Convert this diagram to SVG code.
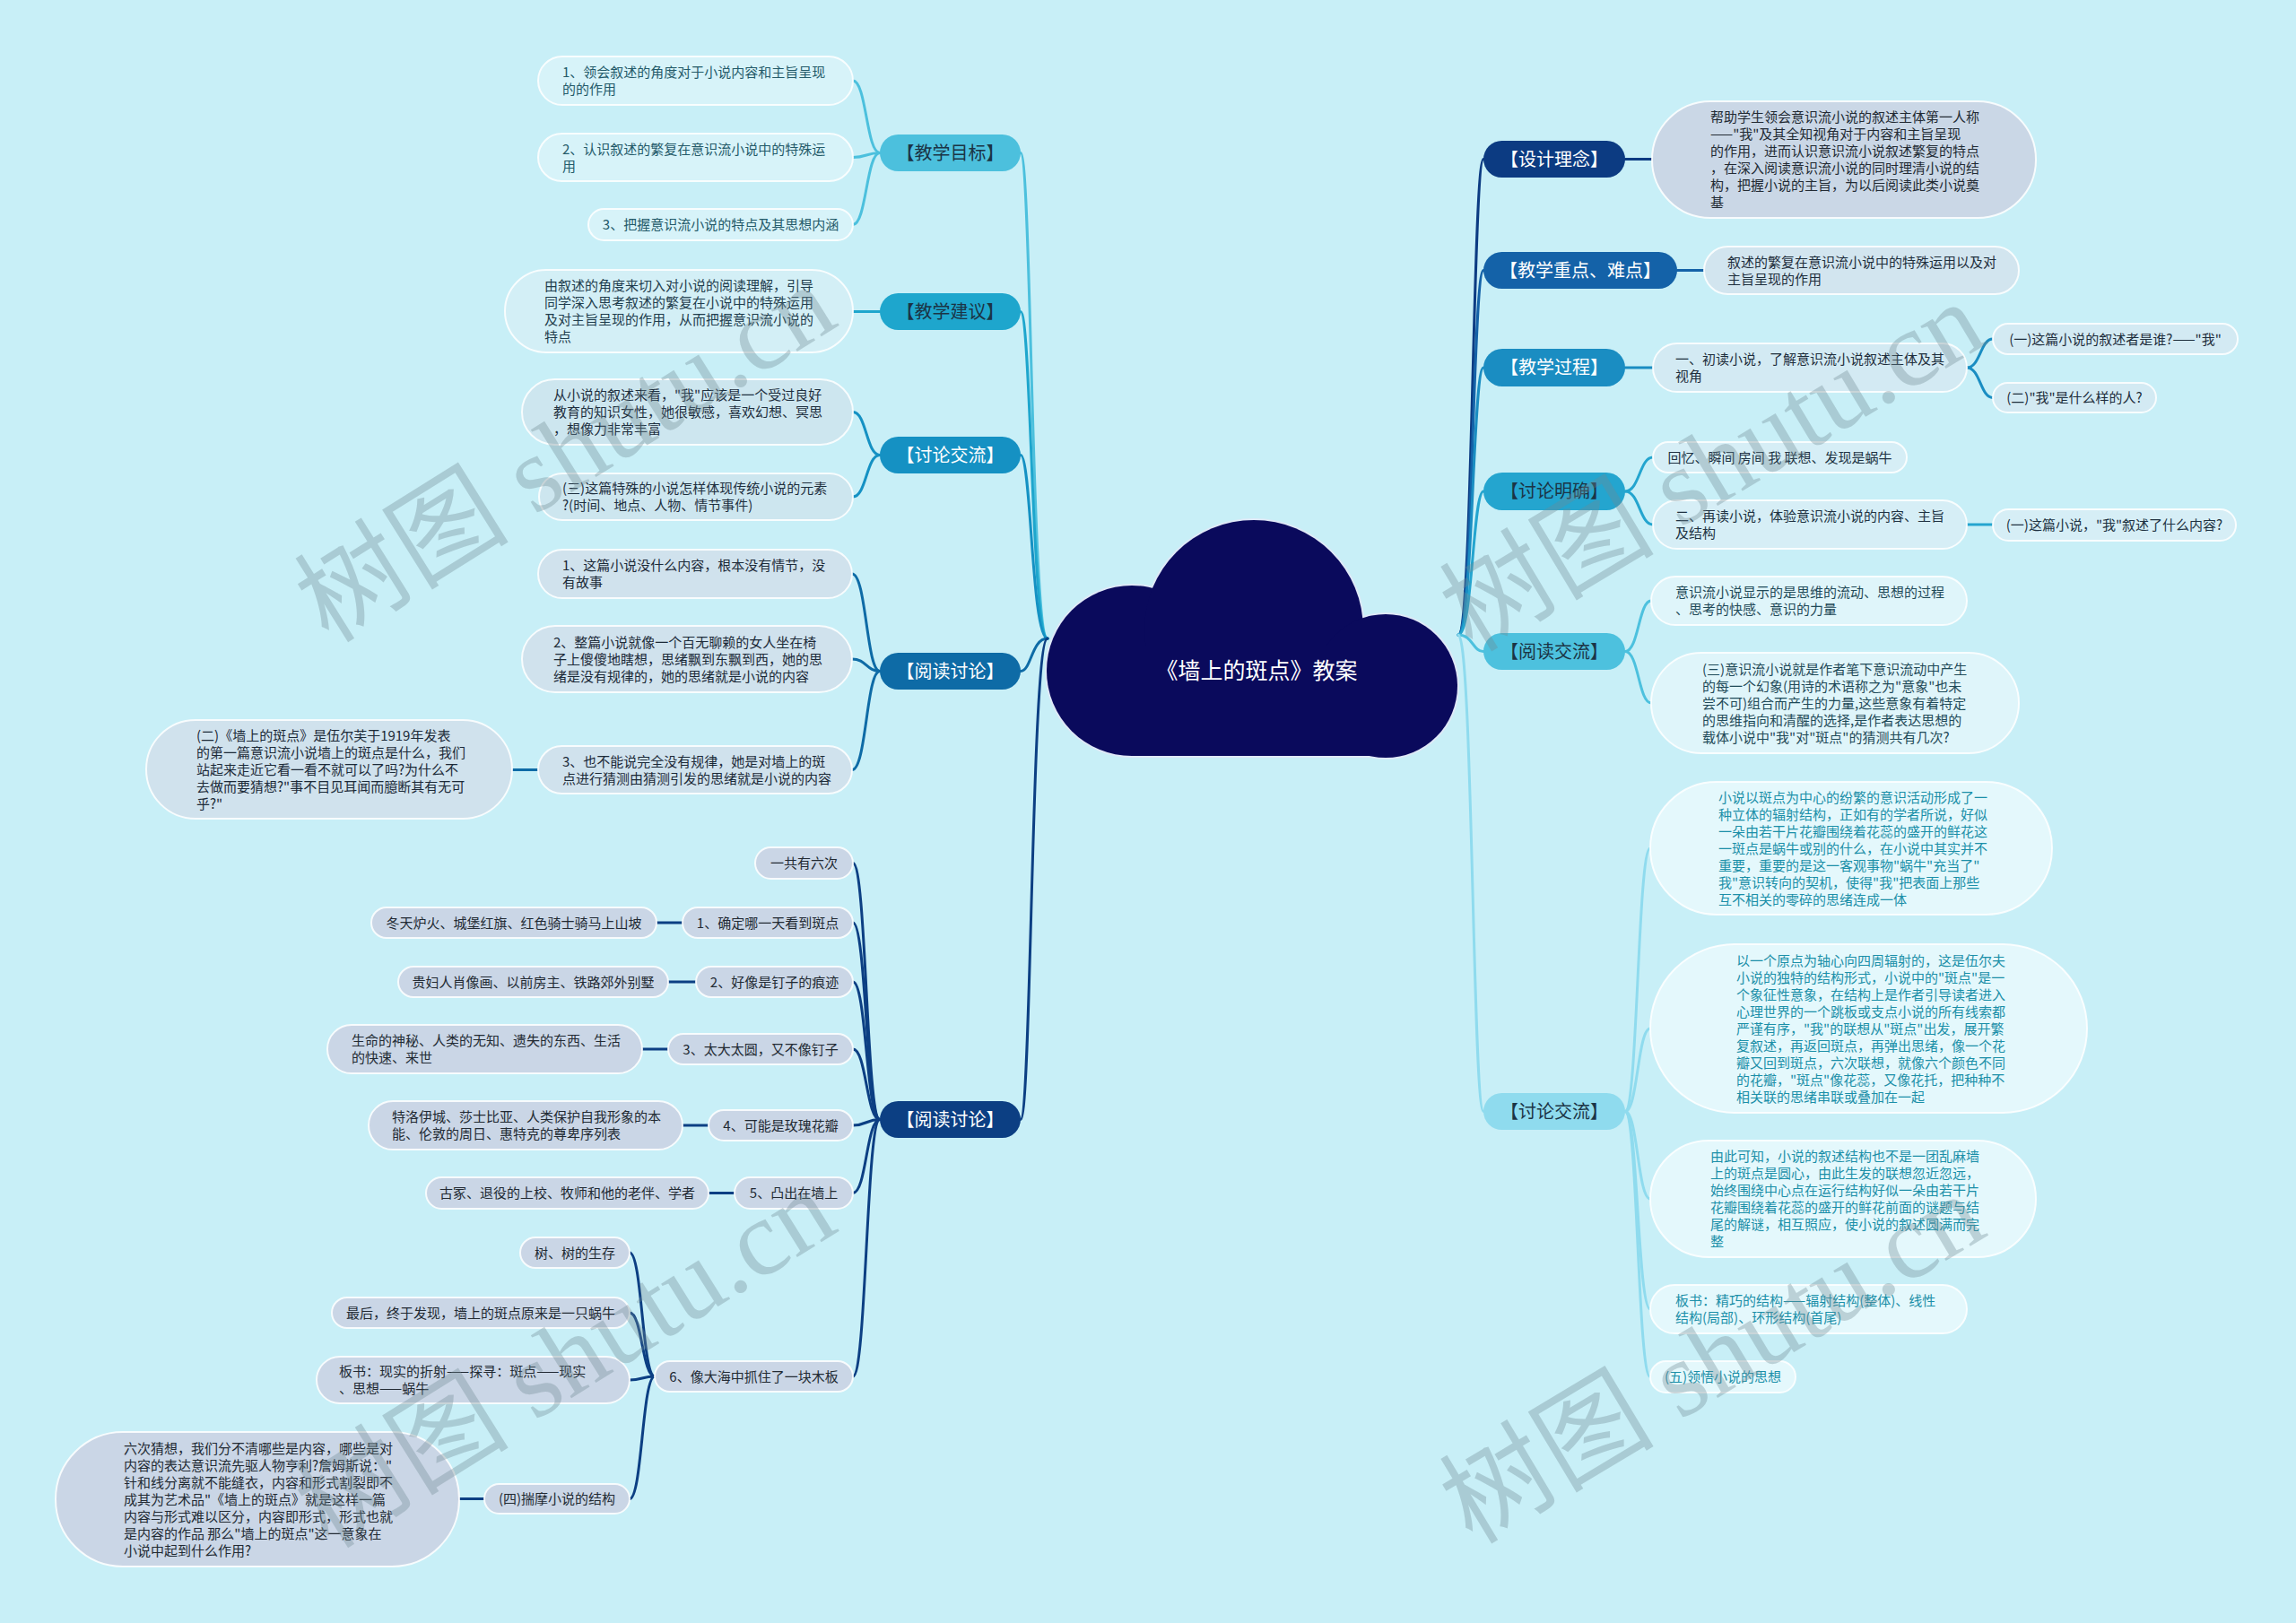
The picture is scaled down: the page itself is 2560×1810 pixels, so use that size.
<svg xmlns="http://www.w3.org/2000/svg" width="2560" height="1810" viewBox="0 0 2560 1810">
<style>
text{font-family:"Noto Sans CJK SC","Liberation Sans",sans-serif;font-size:15px}
.mt{font-size:20px;text-anchor:middle}
.w{fill:#ffffff}
.dk{fill:#1b3445}
.mid{text-anchor:middle}
.ch{stroke:#ffffff;stroke-width:2;stroke-opacity:0.85}
.cn path{fill:none;stroke-width:3;stroke-linecap:round}
.a1{fill:#d7f3f9}.a1t{fill:#245a69}
.a2{fill:#d3eff6}.a2t{fill:#1f3d4d}
.a3{fill:#cde6ef}.a3t{fill:#1e2f3e}
.a4{fill:#d0e2ed}.a4t{fill:#1c2a38}
.a5{fill:#cad6e6}.a5t{fill:#222a33}
.b1{fill:#cad7e6}.b1t{fill:#222a33}
.b2{fill:#d2e5ef}.b2t{fill:#1e2e3c}
.b3{fill:#d3eaf3}.b3t{fill:#1e2e3c}
.b4{fill:#d6eef6}.b4t{fill:#203242}
.b5{fill:#dff5fa}.b5t{fill:#1f4a58}
.b6{fill:#e4f8fc}.b6t{fill:#1b8fa8}
.wm{font-family:"Liberation Serif","Noto Sans CJK SC",serif;font-size:120px;fill:#6f8a93;fill-opacity:0.35;text-anchor:middle}
</style>
<rect x="0" y="0" width="2560" height="1810" fill="#c8eff7"/>

<g id="connectors" class="cn">
  <!-- center to left main -->
  <path d="M1168 712 C1150 712,1150 170.5,1138 170.5" stroke="#4cc0dd"/>
  <path d="M1168 712 C1150 712,1150 347.5,1138 347.5" stroke="#1ea6cd"/>
  <path d="M1168 712 C1150 712,1150 507.5,1138 507.5" stroke="#1591c3"/>
  <path d="M1168 712 C1150 712,1150 748.5,1138 748.5" stroke="#0e6ba6"/>
  <path d="M1168 712 C1150 712,1150 1248.5,1138 1248.5" stroke="#0c3f83"/>
  <!-- center to right main -->
  <path d="M1626 708 C1642 708,1642 177.5,1654 177.5" stroke="#0c3b82"/>
  <path d="M1626 708 C1642 708,1642 301.5,1654 301.5" stroke="#1462a8"/>
  <path d="M1626 708 C1642 708,1642 410,1654 410" stroke="#1a8dc2"/>
  <path d="M1626 708 C1642 708,1642 548,1654 548" stroke="#24a5cf"/>
  <path d="M1626 708 C1642 708,1642 726.5,1654 726.5" stroke="#4dc1de"/>
  <path d="M1626 708 C1642 708,1642 1239.5,1654 1239.5" stroke="#8fdbee"/>
  <!-- L1 -->
  <path d="M981 170.5 C966 170.5,966 90,951 90" stroke="#4cc0dd"/>
  <path d="M981 170.5 C966 170.5,966 175.5,951 175.5" stroke="#4cc0dd"/>
  <path d="M981 170.5 C966 170.5,966 250.5,951 250.5" stroke="#4cc0dd"/>
  <!-- L2 -->
  <path d="M981 347.5 L951 347.5" stroke="#1ea6cd"/>
  <!-- L3 -->
  <path d="M981 507.5 C966 507.5,966 459.5,951 459.5" stroke="#1591c3"/>
  <path d="M981 507.5 C966 507.5,966 554,951 554" stroke="#1591c3"/>
  <!-- L4 -->
  <path d="M981 748.5 C966 748.5,966 640,950 640" stroke="#0e6ba6"/>
  <path d="M981 748.5 C966 748.5,966 735,950 735" stroke="#0e6ba6"/>
  <path d="M981 748.5 C966 748.5,966 858.5,950 858.5" stroke="#0e6ba6"/>
  <path d="M600 858.5 L571 858.5" stroke="#0e6ba6"/>
  <!-- L5 -->
  <path d="M981 1248.5 C966 1248.5,966 962.5,951 962.5" stroke="#0c3f83"/>
  <path d="M981 1248.5 C966 1248.5,966 1029,951 1029" stroke="#0c3f83"/>
  <path d="M981 1248.5 C966 1248.5,966 1095,951 1095" stroke="#0c3f83"/>
  <path d="M981 1248.5 C966 1248.5,966 1170,951 1170" stroke="#0c3f83"/>
  <path d="M981 1248.5 C966 1248.5,966 1255,951 1255" stroke="#0c3f83"/>
  <path d="M981 1248.5 C966 1248.5,966 1330.5,951 1330.5" stroke="#0c3f83"/>
  <path d="M981 1248.5 C966 1248.5,966 1535,951 1535" stroke="#0c3f83"/>
  <path d="M761 1029 L732 1029" stroke="#0c3f83"/>
  <path d="M776 1095 L745 1095" stroke="#0c3f83"/>
  <path d="M745 1170 L716 1170" stroke="#0c3f83"/>
  <path d="M790 1255 L761 1255" stroke="#0c3f83"/>
  <path d="M819 1330.5 L790 1330.5" stroke="#0c3f83"/>
  <path d="M730 1535 C716 1535,716 1397,702 1397" stroke="#0c3f83"/>
  <path d="M730 1535 C716 1535,716 1464,702 1464" stroke="#0c3f83"/>
  <path d="M730 1535 C716 1535,716 1539,702 1539" stroke="#0c3f83"/>
  <path d="M730 1535 C716 1535,716 1671.5,702 1671.5" stroke="#0c3f83"/>
  <path d="M540 1671.5 L512 1671.5" stroke="#0c3f83"/>
  <!-- R1..R6 -->
  <path d="M1812 177.5 L1842 177.5" stroke="#0c3b82"/>
  <path d="M1870 301.5 L1900 301.5" stroke="#1462a8"/>
  <path d="M1812 410 L1843 410" stroke="#1a8dc2"/>
  <path d="M2193 410 C2208 410,2208 378,2222 378" stroke="#1a8dc2"/>
  <path d="M2193 410 C2208 410,2208 443.5,2222 443.5" stroke="#1a8dc2"/>
  <path d="M1812 548 C1828 548,1828 510,1843 510" stroke="#24a5cf"/>
  <path d="M1812 548 C1828 548,1828 585,1843 585" stroke="#24a5cf"/>
  <path d="M2193 585 L2222 585" stroke="#24a5cf"/>
  <path d="M1812 726.5 C1827 726.5,1827 670,1841 670" stroke="#4dc1de"/>
  <path d="M1812 726.5 C1827 726.5,1827 784,1841 784" stroke="#4dc1de"/>
  <path d="M1812 1239.5 C1826 1239.5,1826 946,1840 946" stroke="#8fdbee"/>
  <path d="M1812 1239.5 C1826 1239.5,1826 1147,1840 1147" stroke="#8fdbee"/>
  <path d="M1812 1239.5 C1826 1239.5,1826 1337,1840 1337" stroke="#8fdbee"/>
  <path d="M1812 1239.5 C1826 1239.5,1826 1460,1840 1460" stroke="#8fdbee"/>
  <path d="M1812 1239.5 C1826 1239.5,1826 1535.5,1840 1535.5" stroke="#8fdbee"/>
</g>

<g id="root">
  <g fill="#0a0a5c" stroke="#dfe9f7" stroke-width="4">
    <circle cx="1262" cy="748" r="95"/>
    <circle cx="1398" cy="702" r="122"/>
    <circle cx="1545" cy="765" r="80"/>
    <rect x="1262" y="720" width="283" height="123"/>
  </g>
  <g fill="#0a0a5c">
    <circle cx="1262" cy="748" r="95"/>
    <circle cx="1398" cy="702" r="122"/>
    <circle cx="1545" cy="765" r="80"/>
    <rect x="1262" y="720" width="283" height="123"/>
  </g>
  <text x="1401" y="757" class="w mid" style="font-size:25px">《墙上的斑点》教案</text>
</g>

<!-- LEFT MAIN NODES -->
<g id="L1"><rect x="981" y="150" width="157" height="41" rx="20.5" fill="#4cc0dd"/><text x="1059.5" y="177.5" class="mt dk">【教学目标】</text></g>
<g id="L2"><rect x="981" y="327" width="157" height="41" rx="20.5" fill="#1ea6cd"/><text x="1059.5" y="354.5" class="mt dk">【教学建议】</text></g>
<g id="L3"><rect x="981" y="487" width="157" height="41" rx="20.5" fill="#1591c3"/><text x="1059.5" y="514.5" class="mt w">【讨论交流】</text></g>
<g id="L4"><rect x="981" y="728" width="157" height="41" rx="20.5" fill="#0e6ba6"/><text x="1059.5" y="755.5" class="mt w">【阅读讨论】</text></g>
<g id="L5"><rect x="981" y="1228" width="157" height="41" rx="20.5" fill="#0c3f83"/><text x="1059.5" y="1255.5" class="mt w">【阅读讨论】</text></g>

<!-- L1 children -->
<g id="L1a"><rect x="600" y="63" width="351" height="54" rx="27" class="a1 ch"/><text class="a1t"><tspan x="627" y="86">1、领会叙述的角度对于小说内容和主旨呈现</tspan><tspan x="627" y="105">的的作用</tspan></text></g>
<g id="L1b"><rect x="600" y="149" width="351" height="53" rx="26.5" class="a1 ch"/><text class="a1t"><tspan x="627" y="171.5">2、认识叙述的繁复在意识流小说中的特殊运</tspan><tspan x="627" y="190.5">用</tspan></text></g>
<g id="L1c"><rect x="656" y="233" width="295" height="35" rx="17.5" class="a1 ch"/><text x="803.5" y="256" class="a1t mid">3、把握意识流小说的特点及其思想内涵</text></g>

<!-- L2 child -->
<g id="L2a"><rect x="563" y="301" width="388" height="92" rx="46" class="a2 ch"/><text class="a2t"><tspan x="607" y="324">由叙述的角度来切入对小说的阅读理解，引导</tspan><tspan x="607" y="343">同学深入思考叙述的繁复在小说中的特殊运用</tspan><tspan x="607" y="362">及对主旨呈现的作用，从而把握意识流小说的</tspan><tspan x="607" y="381">特点</tspan></text></g>

<!-- L3 children -->
<g id="L3a"><rect x="582" y="423" width="369" height="73" rx="36.5" class="a3 ch"/><text class="a3t"><tspan x="617" y="446">从小说的叙述来看，"我"应该是一个受过良好</tspan><tspan x="617" y="465">教育的知识女性，她很敏感，喜欢幻想、冥思</tspan><tspan x="617" y="484">，想像力非常丰富</tspan></text></g>
<g id="L3b"><rect x="601" y="528" width="350" height="52" rx="26" class="a3 ch"/><text class="a3t"><tspan x="627" y="550">(三)这篇特殊的小说怎样体现传统小说的元素</tspan><tspan x="627" y="569">?(时间、地点、人物、情节事件)</tspan></text></g>

<!-- L4 children -->
<g id="L4a"><rect x="600" y="613" width="350" height="54" rx="27" class="a4 ch"/><text class="a4t"><tspan x="627" y="636">1、这篇小说没什么内容，根本没有情节，没</tspan><tspan x="627" y="655">有故事</tspan></text></g>
<g id="L4b"><rect x="582" y="698" width="368" height="74" rx="37" class="a4 ch"/><text class="a4t"><tspan x="617" y="721.5">2、整篇小说就像一个百无聊赖的女人坐在椅</tspan><tspan x="617" y="740.5">子上傻傻地瞎想，思绪飘到东飘到西，她的思</tspan><tspan x="617" y="759.5">绪是没有规律的，她的思绪就是小说的内容</tspan></text></g>
<g id="L4c"><rect x="600" y="832" width="350" height="53" rx="26.5" class="a4 ch"/><text class="a4t"><tspan x="627" y="854.5">3、也不能说完全没有规律，她是对墙上的斑</tspan><tspan x="627" y="873.5">点进行猜测由猜测引发的思绪就是小说的内容</tspan></text></g>
<g id="L4c1"><rect x="163" y="803" width="408" height="110" rx="55" class="a4 ch"/><text class="a4t"><tspan x="219" y="825.5">(二)《墙上的斑点》是伍尔芙于1919年发表</tspan><tspan x="219" y="844.5">的第一篇意识流小说墙上的斑点是什么，我们</tspan><tspan x="219" y="863.5">站起来走近它看一看不就可以了吗?为什么不</tspan><tspan x="219" y="882.5">去做而要猜想?"事不目见耳闻而臆断其有无可</tspan><tspan x="219" y="901.5">乎?"</tspan></text></g>

<!-- L5 children -->
<g id="L5a"><rect x="842" y="945" width="109" height="35" rx="17.5" class="a5 ch"/><text x="896.5" y="968" class="a5t mid">一共有六次</text></g>
<g id="L5b"><rect x="761" y="1012" width="190" height="34" rx="17" class="a5 ch"/><text x="856" y="1034.5" class="a5t mid">1、确定哪一天看到斑点</text></g>
<g id="L5b1"><rect x="414" y="1012" width="318" height="34" rx="17" class="a5 ch"/><text x="573" y="1034.5" class="a5t mid">冬天炉火、城堡红旗、红色骑士骑马上山坡</text></g>
<g id="L5c"><rect x="776" y="1078" width="175" height="34" rx="17" class="a5 ch"/><text x="863.5" y="1100.5" class="a5t mid">2、好像是钉子的痕迹</text></g>
<g id="L5c1"><rect x="444" y="1078" width="301" height="34" rx="17" class="a5 ch"/><text x="594.5" y="1100.5" class="a5t mid">贵妇人肖像画、以前房主、铁路郊外别墅</text></g>
<g id="L5d"><rect x="745" y="1153" width="206" height="34" rx="17" class="a5 ch"/><text x="848" y="1175.5" class="a5t mid">3、太大太圆，又不像钉子</text></g>
<g id="L5d1"><rect x="365" y="1143" width="351" height="54" rx="27" class="a5 ch"/><text class="a5t"><tspan x="392" y="1166">生命的神秘、人类的无知、遗失的东西、生活</tspan><tspan x="392" y="1185">的快速、来世</tspan></text></g>
<g id="L5e"><rect x="790" y="1238" width="161" height="34" rx="17" class="a5 ch"/><text x="870.5" y="1260.5" class="a5t mid">4、可能是玫瑰花瓣</text></g>
<g id="L5e1"><rect x="411" y="1228" width="350" height="54" rx="27" class="a5 ch"/><text class="a5t"><tspan x="437" y="1251">特洛伊城、莎士比亚、人类保护自我形象的本</tspan><tspan x="437" y="1270">能、伦敦的周日、惠特克的尊卑序列表</tspan></text></g>
<g id="L5f"><rect x="819" y="1313" width="132" height="35" rx="17.5" class="a5 ch"/><text x="885" y="1336" class="a5t mid">5、凸出在墙上</text></g>
<g id="L5f1"><rect x="475" y="1313" width="315" height="35" rx="17.5" class="a5 ch"/><text x="632.5" y="1336" class="a5t mid">古冢、退役的上校、牧师和他的老伴、学者</text></g>
<g id="L5g"><rect x="730" y="1518" width="221" height="34" rx="17" class="a5 ch"/><text x="840.5" y="1540.5" class="a5t mid">6、像大海中抓住了一块木板</text></g>
<g id="L5g1"><rect x="580" y="1380" width="122" height="34" rx="17" class="a5 ch"/><text x="641" y="1402.5" class="a5t mid">树、树的生存</text></g>
<g id="L5g2"><rect x="370" y="1447" width="332" height="34" rx="17" class="a5 ch"/><text x="536" y="1469.5" class="a5t mid">最后，终于发现，墙上的斑点原来是一只蜗牛</text></g>
<g id="L5g3"><rect x="353" y="1513" width="349" height="52" rx="26" class="a5 ch"/><text class="a5t"><tspan x="378" y="1535">板书：现实的折射——探寻：斑点——现实</tspan><tspan x="378" y="1554">、思想——蜗牛</tspan></text></g>
<g id="L5g4"><rect x="540" y="1655" width="162" height="33" rx="16.5" class="a5 ch"/><text x="621" y="1677" class="a5t mid">(四)揣摩小说的结构</text></g>
<g id="L5g4a"><rect x="62" y="1597" width="450" height="150" rx="75" class="a5 ch"/><text class="a5t"><tspan x="138" y="1620.5">六次猜想，我们分不清哪些是内容，哪些是对</tspan><tspan x="138" y="1639.5">内容的表达意识流先驱人物亨利?詹姆斯说："</tspan><tspan x="138" y="1658.5">针和线分离就不能缝衣，内容和形式割裂即不</tspan><tspan x="138" y="1677.5">成其为艺术品"《墙上的斑点》就是这样一篇</tspan><tspan x="138" y="1696.5">内容与形式难以区分，内容即形式，形式也就</tspan><tspan x="138" y="1715.5">是内容的作品 那么"墙上的斑点"这一意象在</tspan><tspan x="138" y="1734.5">小说中起到什么作用?</tspan></text></g>

<!-- RIGHT MAIN NODES -->
<g id="R1"><rect x="1654" y="157" width="158" height="41" rx="20.5" fill="#0c3b82"/><text x="1733" y="184.5" class="mt w">【设计理念】</text></g>
<g id="R2"><rect x="1654" y="281" width="216" height="41" rx="20.5" fill="#1462a8"/><text x="1762" y="308.5" class="mt w">【教学重点、难点】</text></g>
<g id="R3"><rect x="1654" y="389" width="158" height="42" rx="21" fill="#1a8dc2"/><text x="1733" y="417" class="mt w">【教学过程】</text></g>
<g id="R4"><rect x="1654" y="527" width="158" height="42" rx="21" fill="#24a5cf"/><text x="1733" y="555" class="mt dk">【讨论明确】</text></g>
<g id="R5"><rect x="1654" y="706" width="158" height="41" rx="20.5" fill="#4dc1de"/><text x="1733" y="733.5" class="mt dk">【阅读交流】</text></g>
<g id="R6"><rect x="1654" y="1219" width="158" height="41" rx="20.5" fill="#8fdbee"/><text x="1733" y="1246.5" class="mt dk">【讨论交流】</text></g>

<!-- R children -->
<g id="R1a"><rect x="1842" y="113" width="428" height="130" rx="65" class="b1 ch"/><text class="b1t"><tspan x="1907" y="136">帮助学生领会意识流小说的叙述主体第一人称</tspan><tspan x="1907" y="155">——"我"及其全知视角对于内容和主旨呈现</tspan><tspan x="1907" y="174">的作用，进而认识意识流小说叙述繁复的特点</tspan><tspan x="1907" y="193">，在深入阅读意识流小说的同时理清小说的结</tspan><tspan x="1907" y="212">构，把握小说的主旨，为以后阅读此类小说奠</tspan><tspan x="1907" y="231">基</tspan></text></g>
<g id="R2a"><rect x="1900" y="275" width="351" height="53" rx="26.5" class="b2 ch"/><text class="b2t"><tspan x="1926" y="297.5">叙述的繁复在意识流小说中的特殊运用以及对</tspan><tspan x="1926" y="316.5">主旨呈现的作用</tspan></text></g>
<g id="R3a"><rect x="1843" y="383" width="350" height="54" rx="27" class="b3 ch"/><text class="b3t"><tspan x="1868" y="406">一、初读小说，了解意识流小说叙述主体及其</tspan><tspan x="1868" y="425">视角</tspan></text></g>
<g id="R3a1"><rect x="2222" y="361" width="273" height="34" rx="17" class="b3 ch"/><text x="2358.5" y="383.5" class="b3t mid">(一)这篇小说的叙述者是谁?——"我"</text></g>
<g id="R3a2"><rect x="2222" y="427" width="182" height="33" rx="16.5" class="b3 ch"/><text x="2313" y="449" class="b3t mid">(二)"我"是什么样的人?</text></g>
<g id="R4a"><rect x="1843" y="493" width="283" height="34" rx="17" class="b4 ch"/><text x="1984.5" y="515.5" class="b4t mid">回忆、瞬间 房间 我 联想、发现是蜗牛</text></g>
<g id="R4b"><rect x="1843" y="558" width="350" height="54" rx="27" class="b4 ch"/><text class="b4t"><tspan x="1868" y="581">二、再读小说，体验意识流小说的内容、主旨</tspan><tspan x="1868" y="600">及结构</tspan></text></g>
<g id="R4b1"><rect x="2222" y="568" width="271" height="35" rx="17.5" class="b4 ch"/><text x="2357.5" y="591" class="b4t mid">(一)这篇小说，"我"叙述了什么内容?</text></g>
<g id="R5a"><rect x="1841" y="643" width="352" height="54" rx="27" class="b5 ch"/><text class="b5t"><tspan x="1868" y="666">意识流小说显示的是思维的流动、思想的过程</tspan><tspan x="1868" y="685">、思考的快感、意识的力量</tspan></text></g>
<g id="R5b"><rect x="1841" y="728" width="410" height="112" rx="56" class="b5 ch"/><text class="b5t"><tspan x="1898" y="751.5">(三)意识流小说就是作者笔下意识流动中产生</tspan><tspan x="1898" y="770.5">的每一个幻象(用诗的术语称之为"意象"也未</tspan><tspan x="1898" y="789.5">尝不可)组合而产生的力量,这些意象有着特定</tspan><tspan x="1898" y="808.5">的思维指向和清醒的选择,是作者表达思想的</tspan><tspan x="1898" y="827.5">载体小说中"我"对"斑点"的猜测共有几次?</tspan></text></g>
<g id="R6a"><rect x="1840" y="872" width="448" height="148" rx="74" class="b6 ch"/><text class="b6t"><tspan x="1916" y="894.5">小说以斑点为中心的纷繁的意识活动形成了一</tspan><tspan x="1916" y="913.5">种立体的辐射结构，正如有的学者所说，好似</tspan><tspan x="1916" y="932.5">一朵由若干片花瓣围绕着花蕊的盛开的鲜花这</tspan><tspan x="1916" y="951.5">一斑点是蜗牛或别的什么，在小说中其实并不</tspan><tspan x="1916" y="970.5">重要，重要的是这一客观事物"蜗牛"充当了"</tspan><tspan x="1916" y="989.5">我"意识转向的契机，使得"我"把表面上那些</tspan><tspan x="1916" y="1008.5">互不相关的零碎的思绪连成一体</tspan></text></g>
<g id="R6b"><rect x="1840" y="1053" width="487" height="188" rx="94" class="b6 ch"/><text class="b6t"><tspan x="1936" y="1076.5">以一个原点为轴心向四周辐射的，这是伍尔夫</tspan><tspan x="1936" y="1095.5">小说的独特的结构形式，小说中的"斑点"是一</tspan><tspan x="1936" y="1114.5">个象征性意象，在结构上是作者引导读者进入</tspan><tspan x="1936" y="1133.5">心理世界的一个跳板或支点小说的所有线索都</tspan><tspan x="1936" y="1152.5">严谨有序，"我"的联想从"斑点"出发，展开繁</tspan><tspan x="1936" y="1171.5">复叙述，再返回斑点，再弹出思绪，像一个花</tspan><tspan x="1936" y="1190.5">瓣又回到斑点，六次联想，就像六个颜色不同</tspan><tspan x="1936" y="1209.5">的花瓣，"斑点"像花蕊，又像花托，把种种不</tspan><tspan x="1936" y="1228.5">相关联的思绪串联或叠加在一起</tspan></text></g>
<g id="R6c"><rect x="1840" y="1272" width="430" height="130" rx="65" class="b6 ch"/><text class="b6t"><tspan x="1907" y="1295">由此可知，小说的叙述结构也不是一团乱麻墙</tspan><tspan x="1907" y="1314">上的斑点是圆心，由此生发的联想忽近忽远，</tspan><tspan x="1907" y="1333">始终围绕中心点在运行结构好似一朵由若干片</tspan><tspan x="1907" y="1352">花瓣围绕着花蕊的盛开的鲜花前面的谜题与结</tspan><tspan x="1907" y="1371">尾的解谜，相互照应，使小说的叙述圆满而完</tspan><tspan x="1907" y="1390">整</tspan></text></g>
<g id="R6d"><rect x="1840" y="1433" width="353" height="54" rx="27" class="b6 ch"/><text class="b6t"><tspan x="1868" y="1456">板书：精巧的结构——辐射结构(整体)、线性</tspan><tspan x="1868" y="1475">结构(局部)、环形结构(首尾)</tspan></text></g>
<g id="R6e"><rect x="1840" y="1518" width="162" height="35" rx="17.5" class="b6 ch"/><text x="1921" y="1541" class="b6t mid">(五)领悟小说的思想</text></g>

<g id="watermark">
  <text class="wm" transform="translate(652 540) rotate(-32)">树图 shutu.cn</text>
  <text class="wm" transform="translate(1930 555) rotate(-31)">树图 shutu.cn</text>
  <text class="wm" transform="translate(652 1550) rotate(-32)">树图 shutu.cn</text>
  <text class="wm" transform="translate(1930 1550) rotate(-31)">树图 shutu.cn</text>
</g>
</svg>
